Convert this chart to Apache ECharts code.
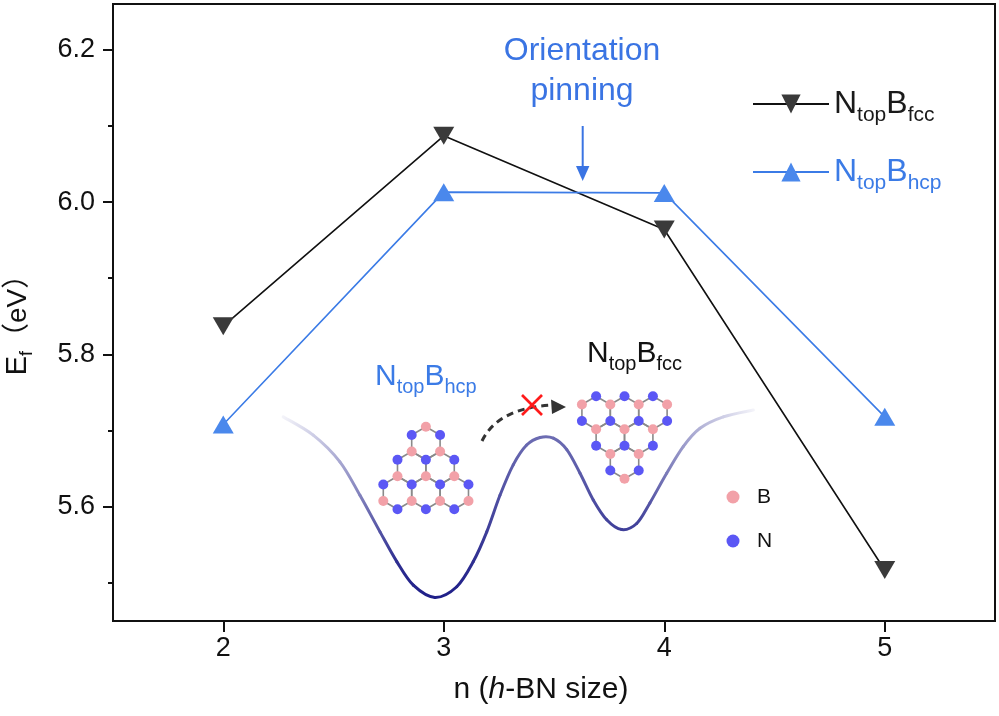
<!DOCTYPE html>
<html>
<head>
<meta charset="utf-8">
<script src="https://cdn.jsdelivr.net/npm/echarts@6/dist/echarts.min.js"></script>
<style>
html,body{margin:0;padding:0;background:#fff;}
#chart{width:999px;height:716px;}
</style>
</head>
<body>
<div id="chart"></div>
<script>
// ---- data ----
const nValues = [2, 3, 4, 5];
const efFcc = [5.837, 6.087, 5.964, 5.517];
const efHcp = [5.708, 6.013, 6.012, 5.718];
const xTicks = [2, 3, 4, 5];
const yTicks = [5.6, 5.8, 6.0, 6.2];
const yMinorTicks = [5.5, 5.7, 5.9, 6.1];
// energy-landscape curve of the inset (read point by point)
const wellX = [2.272, 2.408, 2.529, 2.620, 2.711, 2.787, 2.862, 2.960, 3.059, 3.134, 3.195, 3.255, 3.315, 3.376, 3.437, 3.497, 3.558, 3.618, 3.678, 3.739, 3.807, 3.875, 3.935, 4.011, 4.086, 4.162, 4.268, 4.404];
const wellY = [5.718, 5.694, 5.659, 5.615, 5.567, 5.528, 5.497, 5.481, 5.495, 5.528, 5.567, 5.615, 5.655, 5.681, 5.691, 5.690, 5.675, 5.644, 5.609, 5.583, 5.570, 5.578, 5.605, 5.644, 5.679, 5.703, 5.718, 5.727];
// h-BN flakes of the inset: anchor (top vertex) and kind (0 = NtopBhcp, 1 = NtopBfcc)
const flakeX = [2.919, 3.691];
const flakeY = [5.705, 5.745];
const flakeKind = [0, 1];

const FONT = '"Liberation Sans", Arial, sans-serif';
const BLUE = '#3b7be6';
const PINK = '#f2a1a8';
const NBLUE = '#5b57f5';

const chart = echarts.init(document.getElementById('chart'), null, {renderer: 'canvas'});

function renderFlake(params, api) {
  const p = api.coord([api.value(0), api.value(1)]);
  const kind = api.value(2);
  const a = 16.5, w = 14.2;
  const colA = kind === 0 ? PINK : NBLUE;
  const colB = kind === 0 ? NBLUE : PINK;
  const offs = [[0, -a, 0], [w, -a / 2, 1], [w, a / 2, 0], [0, a, 1], [-w, a / 2, 0], [-w, -a / 2, 1]];
  const bonds = [];
  const atoms = {};
  for (let r = 0; r < 3; r++) {
    const n = kind === 0 ? r + 1 : 3 - r;
    for (let j = 0; j < n; j++) {
      const cx = kind === 0 ? p[0] + (2 * j - r) * w : p[0] + (2 * j + r) * w;
      const cy = p[1] + a + r * 1.5 * a;
      const pts = offs.map(o => [cx + o[0], cy + o[1]]);
      bonds.push({type: 'polygon', shape: {points: pts}, style: {fill: 'none', stroke: '#8a8a8a', lineWidth: 1.6}});
      offs.forEach(o => {
        const x = cx + o[0], y = cy + o[1];
        atoms[Math.round(x * 4) + ',' + Math.round(y * 4)] = {x: x, y: y, c: o[2] === 0 ? colA : colB};
      });
    }
  }
  const circles = Object.values(atoms).map(at => ({
    type: 'circle', shape: {cx: at.x, cy: at.y, r: 5}, style: {fill: at.c}
  }));
  return {type: 'group', children: bonds.concat(circles)};
}

// stroke colour of the landscape: darker lower down, fading out toward both ends
function wellColor(x, y, xs, xe, yTop, yBot) {
  const t = Math.max(0, Math.min(1, (y - yTop) / (yBot - yTop)));
  const base = [108 - 78 * t, 108 - 78 * t, 178 - 42 * t];
  const f = Math.max(0, Math.min(1, (x - xs) / 110)) * Math.max(0, Math.min(1, (xe - x) / 110));
  const k = 0.08 + 0.92 * f;
  const c = base.map(v => Math.round(255 - (255 - v) * k));
  return 'rgb(' + c.join(',') + ')';
}

// smooth curve through the read points (Catmull-Rom drawn as cubic Beziers)
function renderWell(params, api) {
  if (params.dataIndexInside !== 0) return null;
  const n = params.dataInsideLength;
  const P = [];
  for (let i = 0; i < n; i++) P.push(api.coord([api.value(0, i), api.value(1, i)]));
  const yBot = Math.max.apply(null, P.map(q => q[1]));
  const yTop = P[14][1];
  const xs = P[0][0], xe = P[n - 1][0];
  const children = [];
  for (let i = 0; i < n - 1; i++) {
    const p0 = P[Math.max(i - 1, 0)], p1 = P[i], p2 = P[i + 1], p3 = P[Math.min(i + 2, n - 1)];
    const c1x = p1[0] + (p2[0] - p0[0]) / 6, c1y = p1[1] + (p2[1] - p0[1]) / 6;
    const c2x = p2[0] - (p3[0] - p1[0]) / 6, c2y = p2[1] - (p3[1] - p1[1]) / 6;
    const grad = new echarts.graphic.LinearGradient(p1[0], p1[1], p2[0] + 0.01, p2[1] + 0.01, [
      {offset: 0, color: wellColor(p1[0], p1[1], xs, xe, yTop, yBot)},
      {offset: 1, color: wellColor(p2[0], p2[1], xs, xe, yTop, yBot)}
    ], true);
    children.push({type: 'bezierCurve',
      shape: {x1: p1[0], y1: p1[1], cpx1: c1x, cpy1: c1y, cpx2: c2x, cpy2: c2y, x2: p2[0], y2: p2[1]},
      style: {fill: 'none', stroke: grad, lineWidth: 3, lineCap: 'round'}});
  }
  return {type: 'group', children: children};
}

const legendRich = {
  a: {fontSize: 32, lineHeight: 32, padding: [8, 0, 8, 0], color: '#1a1a1a', fontFamily: FONT},
  b: {fontSize: 21, lineHeight: 21, padding: [25, 0, 2, 0], color: '#1a1a1a', fontFamily: FONT},
  c: {fontSize: 32, lineHeight: 32, padding: [8, 0, 8, 0], color: BLUE, fontFamily: FONT},
  d: {fontSize: 21, lineHeight: 21, padding: [25, 0, 2, 0], color: BLUE, fontFamily: FONT}
};

function subRich(color) {
  return {
    n: {fontSize: 30, lineHeight: 30, padding: [7, 0, 7, 0], fill: color, fontFamily: FONT},
    s: {fontSize: 20, lineHeight: 20, padding: [22, 0, 2, 0], fill: color, fontFamily: FONT}
  };
}

const option = {
  animation: false,
  backgroundColor: '#fff',
  grid: {left: 113, right: 4, top: 4, bottom: 95, show: true, borderColor: '#111', borderWidth: 2, backgroundColor: 'transparent'},
  legend: {
    orient: 'vertical', left: 752, top: 80, padding: 0,
    itemWidth: 76, itemHeight: 24, itemGap: 20, selectedMode: false,
    data: ['fcc', 'hcp'],
    formatter: function (name) {
      return name === 'fcc' ? '{a|N}{b|top}{a|B}{b|fcc}' : '{c|N}{d|top}{c|B}{d|hcp}';
    },
    textStyle: {rich: legendRich, fontFamily: FONT}
  },
  xAxis: {
    type: 'value', min: 1.5, max: 5.5,
    axisLine: {show: true, onZero: false, lineStyle: {color: '#111', width: 2}},
    axisTick: {show: true, customValues: xTicks, length: 11, lineStyle: {color: '#111', width: 2}},
    axisLabel: {show: true, customValues: xTicks, fontSize: 27, color: '#111', margin: 14, fontFamily: FONT},
    splitLine: {show: false}
  },
  yAxis: [{
    type: 'value', min: 5.45, max: 6.26,
    axisLine: {show: true, onZero: false, lineStyle: {color: '#111', width: 2}},
    axisTick: {show: true, customValues: yTicks, length: 10, lineStyle: {color: '#111', width: 2}},
    axisLabel: {show: true, customValues: yTicks, fontSize: 27, color: '#111', margin: 18, fontFamily: FONT,
      formatter: v => v.toFixed(1)},
    splitLine: {show: false}
  }, {
    type: 'value', min: 5.45, max: 6.26, position: 'left',
    axisLine: {show: false},
    axisTick: {show: true, customValues: yMinorTicks, length: 5, lineStyle: {color: '#111', width: 2}},
    axisLabel: {show: false},
    splitLine: {show: false}
  }],
  series: [{
    name: 'well', type: 'custom', coordinateSystem: 'cartesian2d', silent: true, z: 1, clip: false,
    encode: {x: 0, y: 1},
    data: wellX.map((x, i) => [x, wellY[i]]),
    renderItem: renderWell
  }, {
    name: 'flakes', type: 'custom', coordinateSystem: 'cartesian2d', silent: true, z: 3, clip: false,
    encode: {x: 0, y: 1},
    data: flakeX.map((x, i) => [x, flakeY[i], flakeKind[i]]),
    renderItem: renderFlake
  }, {
    name: 'fcc', type: 'line', z: 5,
    data: nValues.map((n, i) => [n, efFcc[i]]),
    symbol: 'triangle', symbolRotate: 180, symbolSize: [21, 18],
    itemStyle: {color: '#3a3a3a'},
    lineStyle: {color: '#111', width: 1.6}
  }, {
    name: 'hcp', type: 'line', z: 5,
    data: nValues.map((n, i) => [n, efHcp[i]]),
    symbol: 'triangle', symbolSize: [21, 18],
    itemStyle: {color: '#4a88ec'},
    lineStyle: {color: BLUE, width: 1.6}
  }],
  graphic: [
    // annotation "Orientation pinning"
    {type: 'text', z: 100, x: 582, y: 31, style: {text: 'Orientation\npinning', align: 'center', verticalAlign: 'top',
      fontSize: 32, lineHeight: 40, fontFamily: FONT, fill: '#3a74e3'}},
    {type: 'line', z: 100, shape: {x1: 582.7, y1: 126, x2: 582.7, y2: 170}, style: {stroke: '#3a74e3', lineWidth: 2}},
    {type: 'polygon', z: 100, shape: {points: [[576, 166], [589.4, 166], [582.7, 181]]}, style: {fill: '#3a74e3'}},
    // dashed transition arrow with red cross
    {type: 'bezierCurve', z: 100, shape: {x1: 482, y1: 441, cpx1: 498, cpy1: 408, x2: 552, y2: 405},
      style: {stroke: '#333', lineWidth: 3, lineDash: [7, 5], fill: 'none'}},
    {type: 'polygon', z: 100, shape: {points: [[566, 407], [551, 399.5], [552, 414]]}, style: {fill: '#333'}},
    {type: 'line', z: 101, shape: {x1: 522, y1: 395, x2: 542, y2: 415}, style: {stroke: '#ff1a1a', lineWidth: 2.6}},
    {type: 'line', z: 101, shape: {x1: 522, y1: 415, x2: 542, y2: 395}, style: {stroke: '#ff1a1a', lineWidth: 2.6}},
    // inset labels
    {type: 'text', z: 100, x: 375, y: 377, style: {text: '{n|N}{s|top}{n|B}{s|hcp}', rich: subRich(BLUE),
      align: 'left', verticalAlign: 'middle', fill: BLUE, fontFamily: FONT}},
    {type: 'text', z: 100, x: 587, y: 354, style: {text: '{n|N}{s|top}{n|B}{s|fcc}', rich: subRich('#111'),
      align: 'left', verticalAlign: 'middle', fill: '#111', fontFamily: FONT}},
    // B / N key
    {type: 'circle', z: 100, shape: {cx: 733, cy: 497, r: 6.5}, style: {fill: PINK}},
    {type: 'circle', z: 100, shape: {cx: 733, cy: 541, r: 6.5}, style: {fill: NBLUE}},
    {type: 'text', z: 100, x: 757, y: 497, style: {text: 'B', fontSize: 21, fontFamily: FONT, fill: '#111', align: 'left', verticalAlign: 'middle'}},
    {type: 'text', z: 100, x: 757, y: 541, style: {text: 'N', fontSize: 21, fontFamily: FONT, fill: '#111', align: 'left', verticalAlign: 'middle'}},
    // axis titles
    {type: 'text', z: 100, x: 541, y: 690, style: {text: 'n ({i|h}-BN size)', fontSize: 30, fontFamily: FONT, fill: '#111',
      align: 'center', verticalAlign: 'middle',
      rich: {i: {fontSize: 30, fontStyle: 'italic', fontFamily: FONT, fill: '#111'}}}},
    {type: 'text', z: 100, x: 18, y: 318, rotation: Math.PI / 2,
      style: {text: '{e|E}{f|f}{p|（eV）}', align: 'center', verticalAlign: 'middle', fill: '#111',
        rich: {
          e: {fontSize: 29, lineHeight: 29, padding: [6, 0, 6, 0], fontFamily: FONT, fill: '#111'},
          f: {fontSize: 18, lineHeight: 18, padding: [21, 0, 2, 0], fontFamily: FONT, fill: '#111'},
          p: {fontSize: 28, lineHeight: 28, padding: [7, 0, 6, 0], fontFamily: FONT + ', "Noto Sans CJK SC"', fill: '#111'}
        }}}
  ]
};
chart.setOption(option);
</script>
</body>
</html>
